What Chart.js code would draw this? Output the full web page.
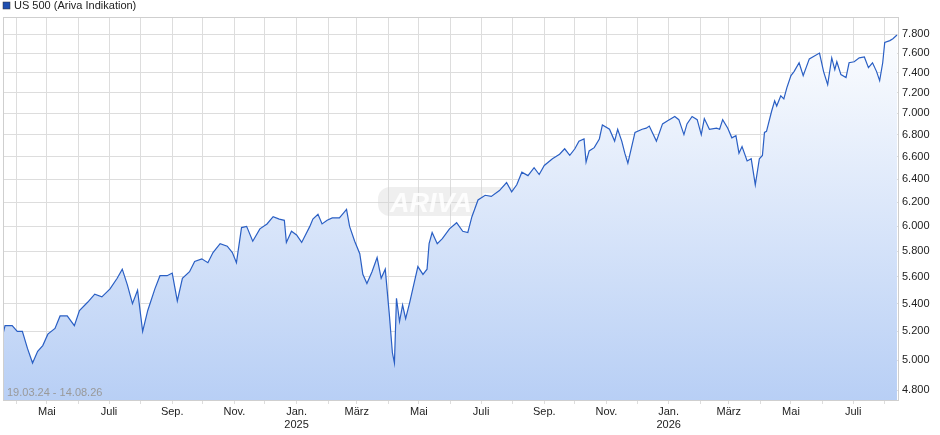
<!DOCTYPE html>
<html>
<head>
<meta charset="utf-8">
<script src="https://cdn.jsdelivr.net/npm/chart.js@4"></script>
<style>
body{margin:0;background:#fff;}
</style>
</head>
<body>
<canvas id="line-chart" width="940" height="435"></canvas>
<script>
// days since 19.03.24 and index values (in thousands)
var days = [0,2,9,14,19,24,29,34,39,44,51,56,63,70,75,83,90,97,105,112,117,122,127,132,137,142,149,154,161,166,171,176,183,188,195,201,206,213,220,225,229,234,239,245,252,259,265,271,276,278,283,288,293,301,304,309,313,318,323,330,335,337,340,345,350,353,357,362,367,371,375,379,382,384,386,389,392,395,399,402,407,412,416,418,421,426,431,438,445,451,456,460,466,473,479,487,494,499,504,509,515,521,526,531,539,546,551,556,561,565,570,572,575,580,585,588,595,600,603,607,610,613,620,627,631,634,641,647,652,659,663,668,671,676,681,685,688,693,700,703,706,711,715,719,722,725,730,734,738,742,745,747,749,754,757,759,763,766,769,773,776,781,785,791,796,801,805,809,813,816,818,822,827,830,835,840,845,849,853,857,860,863,865,870,873,877];
var values = [5.18,5.24,5.24,5.2,5.2,5.08,4.98,5.06,5.1,5.18,5.22,5.31,5.31,5.24,5.35,5.41,5.47,5.45,5.51,5.59,5.66,5.54,5.40,5.5,5.2,5.35,5.51,5.61,5.61,5.63,5.42,5.59,5.64,5.72,5.74,5.71,5.79,5.86,5.84,5.79,5.71,5.99,6.0,5.88,5.98,6.02,6.08,6.06,6.05,5.87,5.96,5.93,5.87,6.0,6.06,6.1,6.02,6.05,6.07,6.07,6.12,6.14,6.0,5.88,5.78,5.62,5.55,5.64,5.75,5.59,5.66,5.32,5.05,4.98,5.44,5.27,5.39,5.29,5.41,5.51,5.68,5.62,5.66,5.86,5.95,5.86,5.9,5.98,6.03,5.96,5.95,6.08,6.22,6.26,6.25,6.3,6.37,6.29,6.35,6.46,6.43,6.5,6.44,6.52,6.58,6.62,6.67,6.61,6.67,6.74,6.76,6.55,6.65,6.68,6.76,6.89,6.85,6.74,6.85,6.74,6.63,6.54,6.82,6.85,6.86,6.88,6.74,6.9,6.93,6.97,6.94,6.8,6.9,6.97,6.94,6.8,6.95,6.85,6.86,6.85,6.94,6.86,6.77,6.79,6.63,6.69,6.56,6.58,6.35,6.58,6.61,6.82,6.83,7.02,7.12,7.07,7.17,7.14,7.25,7.37,7.41,7.5,7.37,7.54,7.57,7.6,7.41,7.28,7.55,7.43,7.51,7.38,7.35,7.5,7.51,7.55,7.56,7.45,7.5,7.41,7.32,7.5,7.71,7.73,7.75,7.79];
var yTicks = [4.8,5.0,5.2,5.4,5.6,5.8,6.0,6.2,6.4,6.6,6.8,7.0,7.2,7.4,7.6,7.8];
var monthNames = ['Jan.','Feb.','März','Apr.','Mai','Juni','Juli','Aug.','Sep.','Okt.','Nov.','Dez.'];

var startMs = Date.UTC(2024,2,19);
var monthTicks = [];
for (var y = 2024; y <= 2026; y++) {
	for (var m = 0; m < 12; m++) {
		var d = (Date.UTC(y,m,1) - startMs) / 86400000;
		if (d > 0 && d < 878) monthTicks.push({value:d, m:m, y:y});
	}
}

var points = days.map(function(d,i){ return {x:d, y:values[i]}; });

var overlay = {
	id:'overlay',
	beforeDatasetsDraw:function(chart){
		var c = chart.ctx;
		c.save();
		c.fillStyle = 'rgba(210,210,210,0.35)';
		c.beginPath();
		c.roundRect(378,187,145,29,12);
		c.fill();
		c.font = 'italic bold 27px "Liberation Sans"';
		c.fillStyle = 'rgba(255,255,255,0.85)';
		c.fillText('ARIVA.DE', 390, 212);
		c.restore();
	},
	afterDraw:function(chart){
		var c = chart.ctx, a = chart.chartArea;
		c.save();
		c.fillStyle = '#1f4fb0';
		c.fillRect(3,2,7,7);
		c.strokeStyle = '#333';
		c.lineWidth = 0.5;
		c.strokeRect(3,2,7,7);
		c.fillStyle = '#222';
		c.font = '11px "Liberation Sans"';
		c.textBaseline = 'middle';
		c.fillText('US 500 (Ariva Indikation)', 14, 6);
		c.fillStyle = '#999';
		c.fillText('19.03.24 - 14.08.26', 7, 393);
		c.strokeStyle = '#cfcfcf';
		c.lineWidth = 1;
		c.strokeRect(a.left+0.5, a.top+0.5, a.right-a.left, a.bottom-a.top);
		c.restore();
	}
};

new Chart(document.getElementById('line-chart'), {
	type:'line',
	data:{
		datasets:[{
			data:points,
			borderColor:'#2a5fc4',
			borderWidth:1.2,
			pointRadius:0,
			tension:0,
			fill:'start',
			backgroundColor:function(ctx){
				var a = ctx.chart.chartArea;
				if (!a) return 'rgba(190,210,245,0.6)';
				var g = ctx.chart.ctx.createLinearGradient(0,a.top,0,a.bottom);
				g.addColorStop(0,'#ffffff');
				g.addColorStop(1,'#b8cff5');
				return g;
			}
		}]
	},
	plugins:[overlay],
	options:{
		responsive:false,
		animation:false,
		layout:{padding:{left:3,top:17,right:0,bottom:0}},
		plugins:{legend:{display:false},tooltip:{enabled:false}},
		scales:{
			x:{
				type:'linear',
				min:0,max:878,
				afterBuildTicks:function(s){ s.ticks = monthTicks.map(function(t){ return {value:t.value}; }); },
				afterFit:function(s){ s.height = 35; },
				grid:{color:'#dddddd',drawTicks:true,tickLength:4},
				border:{display:false},
				ticks:{
					autoSkip:false,maxRotation:0,
					color:'#222',font:{family:'Liberation Sans',size:11},padding:1,
					callback:function(v,i){
						var t = monthTicks[i];
						if (!t || t.m % 2 !== 0) return '';
						return t.m === 0 ? [monthNames[t.m], String(t.y)] : monthNames[t.m];
					}
				}
			},
			y:{
				type:'logarithmic',
				position:'right',
				bounds:'data',
				min:4.735,max:7.983,
				afterBuildTicks:function(s){ s.ticks = yTicks.map(function(v){ return {value:v}; }); },
				afterFit:function(s){ s.width = 42; },
				grid:{color:'#dddddd',drawTicks:false},
				border:{display:false},
				ticks:{
					autoSkip:false,
					color:'#222',font:{family:'Liberation Sans',size:11},padding:4,
					callback:function(v){ return v.toFixed(3); }
				}
			}
		}
	}
});
</script>
</body>
</html>
